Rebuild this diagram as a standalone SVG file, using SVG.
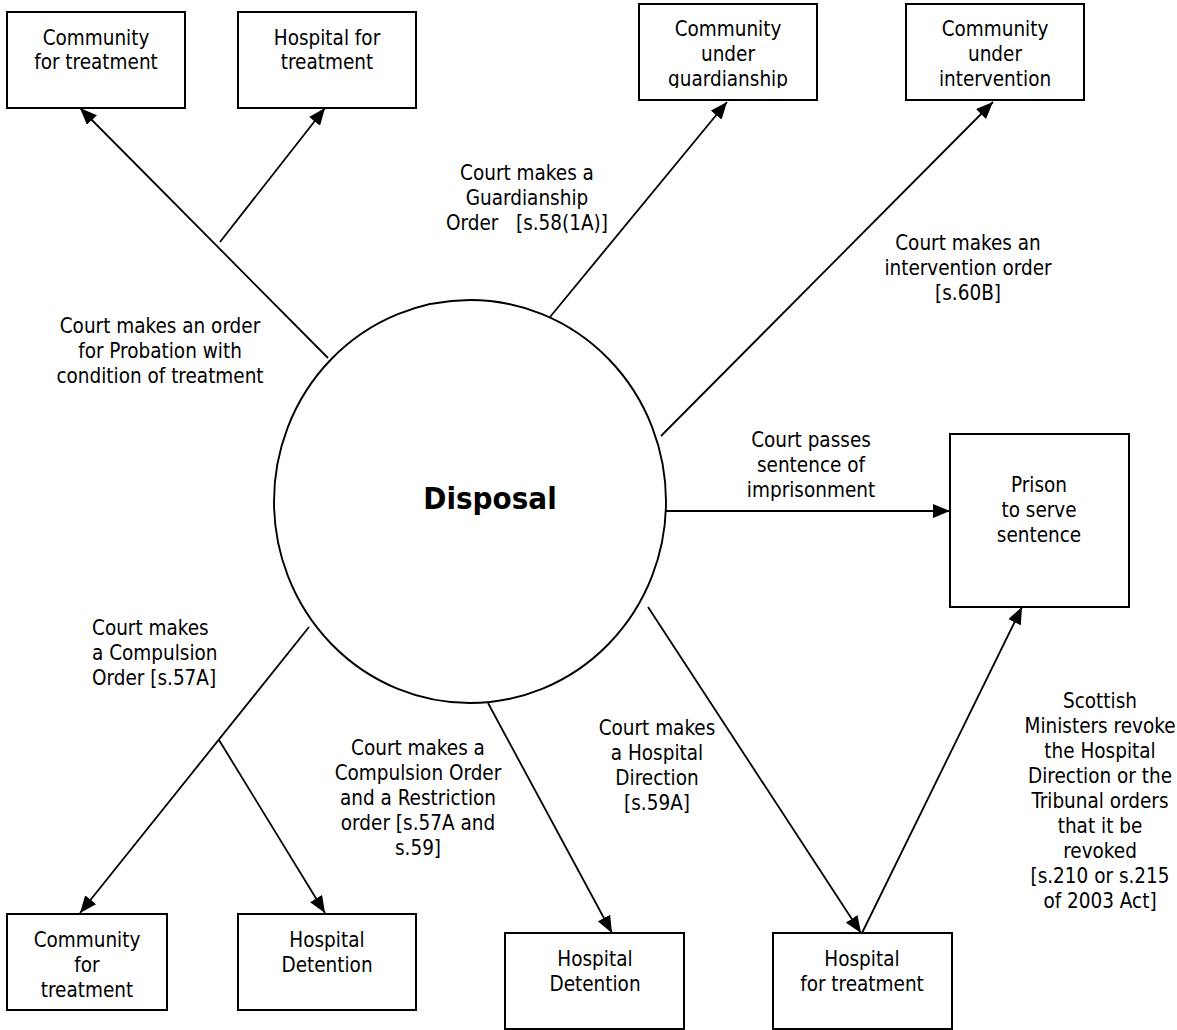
<svg xmlns="http://www.w3.org/2000/svg" width="1177" height="1030" viewBox="0 0 1177 1030">
  <style>
    .box { fill: #fff; stroke: #000; stroke-width: 2; }
    .hub { fill: #fff; stroke: #000; stroke-width: 1.9; }
    .t { font-family: "DejaVu Sans Condensed", "DejaVu Sans", sans-serif; font-size: 20.5px; fill: #000; text-anchor: middle; }
    .l { text-anchor: start; }
    .title { font-family: "DejaVu Sans Condensed", "DejaVu Sans", sans-serif; font-size: 31px; font-weight: bold; text-anchor: middle; fill: #000; }
    .link { stroke: #000; stroke-width: 1.8; fill: none; marker-end: url(#arrow); }
  </style>
  <defs>
    <marker id="arrow" markerUnits="userSpaceOnUse" markerWidth="18" markerHeight="14" refX="17" refY="7" orient="auto">
      <path d="M0,0 L17,7 L0,14 z" fill="#000"/>
    </marker>
    <clipPath id="clipGuard">
      <rect x="639" y="4" width="178" height="84"/>
    </clipPath>
  </defs>
  <rect width="1177" height="1030" fill="#fff"/>

  <!-- connectors -->
  <g id="connectors">
    <line class="link" x1="328" y1="358" x2="80" y2="108"/>
    <line class="link" x1="220" y1="242" x2="325" y2="108"/>
    <line class="link" x1="550" y1="317" x2="727" y2="102"/>
    <line class="link" x1="661" y1="436" x2="993" y2="102"/>
    <line class="link" x1="666" y1="511" x2="950" y2="511"/>
    <line class="link" x1="309" y1="627" x2="80" y2="913"/>
    <line class="link" x1="219" y1="740" x2="325" y2="913"/>
    <line class="link" x1="488" y1="703" x2="612" y2="933"/>
    <line class="link" x1="648" y1="607" x2="861" y2="933"/>
    <line class="link" x1="862" y1="933" x2="1022" y2="607"/>
  </g>

  <!-- edge labels -->
  <g id="labels">
    <text class="t" x="160"><tspan x="160" y="333">Court makes an order</tspan><tspan x="160" y="358">for Probation with</tspan><tspan x="160" y="383">condition of treatment</tspan></text>
    <text class="t" x="527" xml:space="preserve"><tspan x="527" y="180">Court makes a</tspan><tspan x="527" y="205">Guardianship</tspan><tspan x="527" y="230">Order   [s.58(1A)]</tspan></text>
    <text class="t" x="968"><tspan x="968" y="250">Court makes an</tspan><tspan x="968" y="275">intervention order</tspan><tspan x="968" y="300">[s.60B]</tspan></text>
    <text class="t" x="811"><tspan x="811" y="447">Court passes</tspan><tspan x="811" y="472">sentence of</tspan><tspan x="811" y="497">imprisonment</tspan></text>
    <text class="t l" x="92"><tspan x="92" y="635">Court makes</tspan><tspan x="92" y="660">a Compulsion</tspan><tspan x="92" y="685">Order [s.57A]</tspan></text>
    <text class="t" x="418"><tspan x="418" y="755">Court makes a</tspan><tspan x="418" y="780">Compulsion Order</tspan><tspan x="418" y="805">and a Restriction</tspan><tspan x="418" y="830">order [s.57A and</tspan><tspan x="418" y="855">s.59]</tspan></text>
    <text class="t" x="657"><tspan x="657" y="735">Court makes</tspan><tspan x="657" y="760">a Hospital</tspan><tspan x="657" y="785">Direction</tspan><tspan x="657" y="810">[s.59A]</tspan></text>
    <text class="t" x="1100"><tspan x="1100" y="708">Scottish</tspan><tspan x="1100" y="733">Ministers revoke</tspan><tspan x="1100" y="758">the Hospital</tspan><tspan x="1100" y="783">Direction or the</tspan><tspan x="1100" y="808">Tribunal orders</tspan><tspan x="1100" y="833">that it be</tspan><tspan x="1100" y="858">revoked</tspan><tspan x="1100" y="883">[s.210 or s.215</tspan><tspan x="1100" y="908">of 2003 Act]</tspan></text>
  </g>

  <!-- central node -->
  <g id="disposal">
    <ellipse class="hub" cx="470" cy="501.5" rx="196" ry="201.5"/>
    <text class="title" x="490" y="509">Disposal</text>
  </g>

  <!-- outcome nodes -->
  <g id="community-probation">
    <rect class="box" x="7" y="12" width="178" height="96"/>
    <text class="t"><tspan x="96" y="45">Community</tspan><tspan x="96" y="69">for treatment</tspan></text>
  </g>
  <g id="hospital-probation">
    <rect class="box" x="238" y="12" width="178" height="96"/>
    <text class="t"><tspan x="327" y="45">Hospital for</tspan><tspan x="327" y="69">treatment</tspan></text>
  </g>
  <g id="community-guardianship">
    <rect class="box" x="639" y="4" width="178" height="96"/>
    <text class="t" clip-path="url(#clipGuard)"><tspan x="728" y="36">Community</tspan><tspan x="728" y="61">under</tspan><tspan x="728" y="86">guardianship</tspan></text>
  </g>
  <g id="community-intervention">
    <rect class="box" x="906" y="4" width="178" height="96"/>
    <text class="t"><tspan x="995" y="36">Community</tspan><tspan x="995" y="61">under</tspan><tspan x="995" y="86">intervention</tspan></text>
  </g>
  <g id="prison">
    <rect class="box" x="950" y="434" width="179" height="173"/>
    <text class="t"><tspan x="1039" y="492">Prison</tspan><tspan x="1039" y="517">to serve</tspan><tspan x="1039" y="542">sentence</tspan></text>
  </g>
  <g id="community-compulsion">
    <rect class="box" x="7" y="914" width="160" height="96"/>
    <text class="t"><tspan x="87" y="947">Community</tspan><tspan x="87" y="972">for</tspan><tspan x="87" y="997">treatment</tspan></text>
  </g>
  <g id="hospital-compulsion">
    <rect class="box" x="238" y="914" width="178" height="96"/>
    <text class="t"><tspan x="327" y="947">Hospital</tspan><tspan x="327" y="972">Detention</tspan></text>
  </g>
  <g id="hospital-restriction">
    <rect class="box" x="505" y="933" width="179" height="96"/>
    <text class="t"><tspan x="595" y="966">Hospital</tspan><tspan x="595" y="991">Detention</tspan></text>
  </g>
  <g id="hospital-direction">
    <rect class="box" x="773" y="933" width="179" height="96"/>
    <text class="t"><tspan x="862" y="966">Hospital</tspan><tspan x="862" y="991">for treatment</tspan></text>
  </g>
</svg>
